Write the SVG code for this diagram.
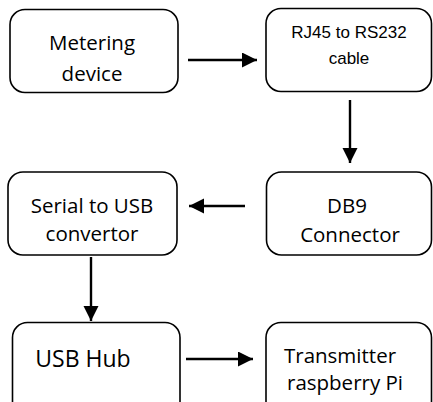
<svg xmlns="http://www.w3.org/2000/svg" width="433" height="402" viewBox="0 0 433 402">
<defs>
<marker id="ah" markerUnits="userSpaceOnUse" markerWidth="16" markerHeight="16" refX="15" refY="7.5" orient="auto">
<path d="M0,0 L15,7.5 L0,15 Z" fill="#000"/>
</marker>
<style>
.box{fill:#fff;stroke:#000;stroke-width:1.6}
.c{font-family:"Open Sans","Liberation Sans",sans-serif;font-size:20.5px;fill:#000;text-anchor:middle}
.a{font-family:"Liberation Sans",Arial,sans-serif;font-size:17px;fill:#000;text-anchor:middle}
.ln{stroke:#000;stroke-width:2.4;fill:none;marker-end:url(#ah)}
</style>
</defs>
<rect width="433" height="402" fill="#fff"/>
<g id="metering">
<rect class="box" x="10" y="9.5" width="168" height="83" rx="15"/>
<text class="c" x="92" y="50">Metering</text>
<text class="c" x="92" y="81">device</text>
</g>
<g id="rj45">
<rect class="box" x="266" y="8.5" width="165.5" height="83" rx="15"/>
<text class="a" x="349" y="38">RJ45 to RS232</text>
<text class="a" x="349" y="64">cable</text>
</g>
<g id="db9">
<rect class="box" x="266.5" y="172" width="165" height="83" rx="15"/>
<text class="c" x="347" y="213">DB9</text>
<text class="c" x="350" y="241.5">Connector</text>
</g>
<g id="serial">
<rect class="box" x="8" y="172" width="169" height="83" rx="15"/>
<text class="c" x="92" y="212.5">Serial to USB</text>
<text class="c" x="92" y="241">convertor</text>
</g>
<g id="usbhub">
<rect class="box" x="12.5" y="322.5" width="167.5" height="100" rx="15"/>
<text class="c" x="83" y="367" style="font-size:23px">USB Hub</text>
</g>
<g id="transmitter">
<rect class="box" x="266" y="322.5" width="165.5" height="100" rx="15"/>
<text class="c" x="340" y="363">Transmitter</text>
<text class="c" x="345" y="390">raspberry Pi</text>
</g>
<g id="connectors">
<line class="ln" x1="188" y1="60" x2="257" y2="60"/>
<line class="ln" x1="350" y1="100" x2="350" y2="163"/>
<line class="ln" x1="245" y1="206" x2="189" y2="206"/>
<line class="ln" x1="91" y1="257" x2="91" y2="321"/>
<line class="ln" x1="186" y1="359" x2="253" y2="359"/>
</g>
</svg>
